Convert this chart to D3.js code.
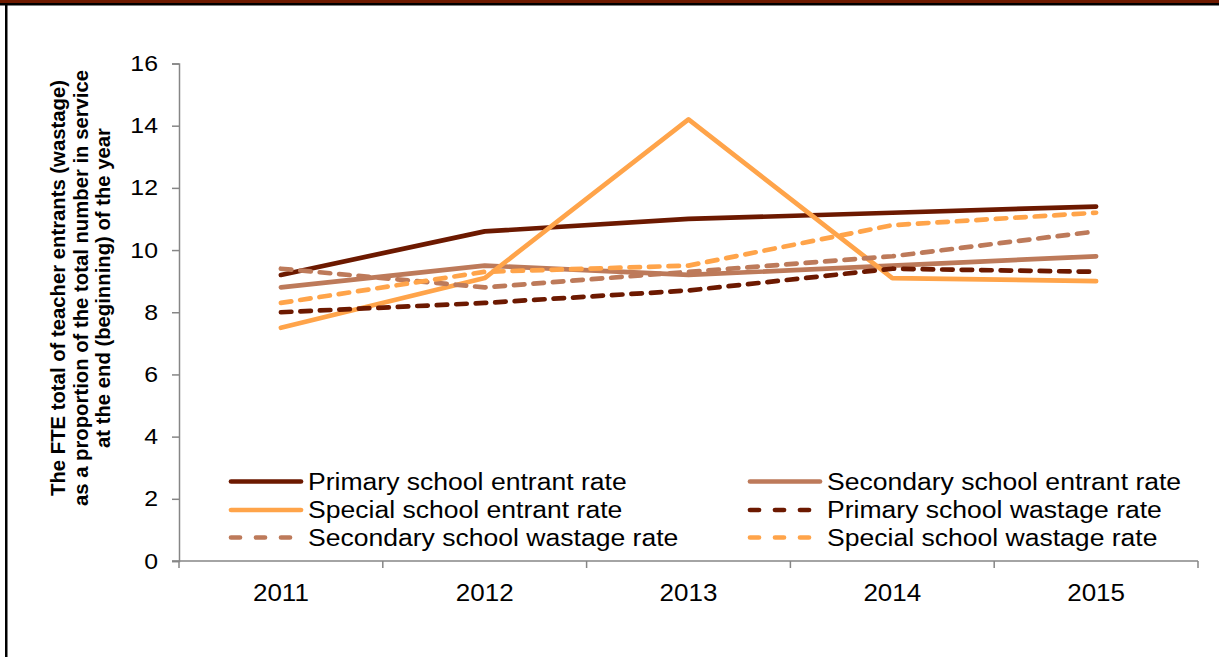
<!DOCTYPE html>
<html>
<head>
<meta charset="utf-8">
<script src="https://cdn.jsdelivr.net/npm/d3@7"></script>
<style>
  html, body { margin: 0; padding: 0; background: #fff; }
  svg { display: block; font-family: "Liberation Sans", Arial, sans-serif; }
</style>
</head>
<body>
<svg id="chart" width="1219" height="657"></svg>
<script>
// Years on the category axis
const years = ["2011", "2012", "2013", "2014", "2015"];

// Rates (%) per year
const primaryEntrant    = [9.2, 10.6, 11.0, 11.2, 11.4];
const secondaryEntrant  = [8.8, 9.5, 9.2, 9.5, 9.8];
const specialEntrant    = [7.5, 9.1, 14.2, 9.1, 9.0];
const primaryWastage    = [8.0, 8.3, 8.7, 9.4, 9.3];
const secondaryWastage  = [9.4, 8.8, 9.3, 9.8, 10.6];
const specialWastage    = [8.3, 9.3, 9.5, 10.8, 11.2];

const yTicks = [0, 2, 4, 6, 8, 10, 12, 14, 16];

const seriesNames = [
  "Primary school entrant rate",
  "Secondary school entrant rate",
  "Special school entrant rate",
  "Primary school wastage rate",
  "Secondary school wastage rate",
  "Special school wastage rate"
];

const C_DARK = "#6c1900", C_TAN = "#bd7a5a", C_ORANGE = "#ffa44a";

const series = [
  { name: seriesNames[0], values: primaryEntrant,   color: C_DARK,   dashed: false },
  { name: seriesNames[1], values: secondaryEntrant, color: C_TAN,    dashed: false },
  { name: seriesNames[2], values: specialEntrant,   color: C_ORANGE, dashed: false },
  { name: seriesNames[3], values: primaryWastage,   color: C_DARK,   dashed: true },
  { name: seriesNames[4], values: secondaryWastage, color: C_TAN,    dashed: true },
  { name: seriesNames[5], values: specialWastage,   color: C_ORANGE, dashed: true }
];

const svg = d3.select("#chart");
const W = 1219, H = 657;
const STRETCH = 1.13;   // slightly widened lettering

// Header band and frame
svg.append("rect").attr("x", 0).attr("y", 0).attr("width", W).attr("height", 4).attr("fill", "#6e1a00");
svg.append("rect").attr("x", 0).attr("y", 3).attr("width", W).attr("height", 2.5).attr("fill", "#000");
svg.append("rect").attr("x", 5).attr("y", 3).attr("width", 2.5).attr("height", H).attr("fill", "#000");

const plot = { left: 179, right: 1198, top: 63.5, bottom: 561 };

const x = d3.scaleBand().domain(years).range([plot.left, plot.right]).padding(0);
const y = d3.scaleLinear().domain([0, 16]).range([plot.bottom, plot.top]);

const axisColor = "#868686";

// Y axis
const yAxis = svg.append("g")
  .attr("transform", `translate(${plot.left},0)`)
  .call(d3.axisLeft(y).tickValues(yTicks).tickSize(7).tickPadding(21).tickFormat(d3.format("d")));
yAxis.select(".domain").attr("stroke", axisColor).attr("stroke-width", 1.5);
yAxis.selectAll(".tick line").attr("stroke", axisColor).attr("stroke-width", 1.5);
yAxis.selectAll(".tick text")
  .attr("x", 0)
  .attr("transform", `translate(-21,0) scale(${STRETCH},1)`)
  .attr("font-size", 22).attr("fill", "#000")
  .attr("font-family", "Liberation Sans, Arial, sans-serif");

// X axis: ticks sit on the category boundaries
const xAxisG = svg.append("g").attr("transform", `translate(0,${plot.bottom})`);
xAxisG.append("line")
  .attr("x1", plot.left - 7).attr("x2", plot.right)
  .attr("stroke", axisColor).attr("stroke-width", 1.5);
const bounds = years.map(d => x(d)).concat([x(years[years.length - 1]) + x.bandwidth()]);
xAxisG.selectAll("line.tk").data(bounds).join("line")
  .attr("class", "tk")
  .attr("x1", d => d).attr("x2", d => d).attr("y1", 0).attr("y2", 7)
  .attr("stroke", axisColor).attr("stroke-width", 1.5);
xAxisG.selectAll("text").data(years).join("text")
  .attr("transform", d => `translate(${x(d) + x.bandwidth() / 2},40) scale(${STRETCH},1)`)
  .attr("text-anchor", "middle")
  .attr("font-size", 23)
  .attr("fill", "#000")
  .text(d => d);

// Y axis title (three lines, rotated)
const titleLines = [
  "The FTE total of teacher entrants (wastage)",
  "as a proportion of the total number in service",
  "at the end (beginning) of the year"
];
const titleG = svg.append("g").attr("transform", "translate(58,288) rotate(-90)");
titleG.selectAll("text").data(titleLines).join("text")
  .attr("x", 0)
  .attr("y", (d, i) => i * 22.5)
  .attr("dy", "0.35em")
  .attr("text-anchor", "middle")
  .attr("font-size", 20.3)
  .attr("font-weight", "bold")
  .attr("fill", "#000")
  .text(d => d);

// Series lines
const line = d3.line()
  .x((d, i) => x(years[i]) + x.bandwidth() / 2)
  .y(d => y(d));

svg.append("g").selectAll("path").data(series).join("path")
  .attr("d", d => line(d.values))
  .attr("fill", "none")
  .attr("stroke", d => d.color)
  .attr("stroke-width", 4.7)
  .attr("stroke-linecap", "round")
  .attr("stroke-linejoin", "round")
  .attr("stroke-dasharray", d => d.dashed ? "10.5 9" : null);

// Legend (two columns, three rows)
const legendCols = [229, 748];
const legendRows = [481.5, 510, 537.5];
const legend = svg.append("g").selectAll("g").data(series).join("g")
  .attr("transform", (d, i) => `translate(${legendCols[i % 2]},${legendRows[Math.floor(i / 2)]})`);
legend.append("line")
  .attr("x1", 2).attr("x2", 72).attr("y1", 0).attr("y2", 0)
  .attr("stroke", d => d.color)
  .attr("stroke-width", 4.7)
  .attr("stroke-linecap", "round")
  .attr("stroke-dasharray", d => d.dashed ? "9 16" : null);
legend.append("text")
  .attr("transform", `translate(79,0) scale(1.13,1)`)
  .attr("dy", "0.35em")
  .attr("font-size", 23.5)
  .attr("fill", "#000")
  .text(d => d.name);
</script>
</body>
</html>
